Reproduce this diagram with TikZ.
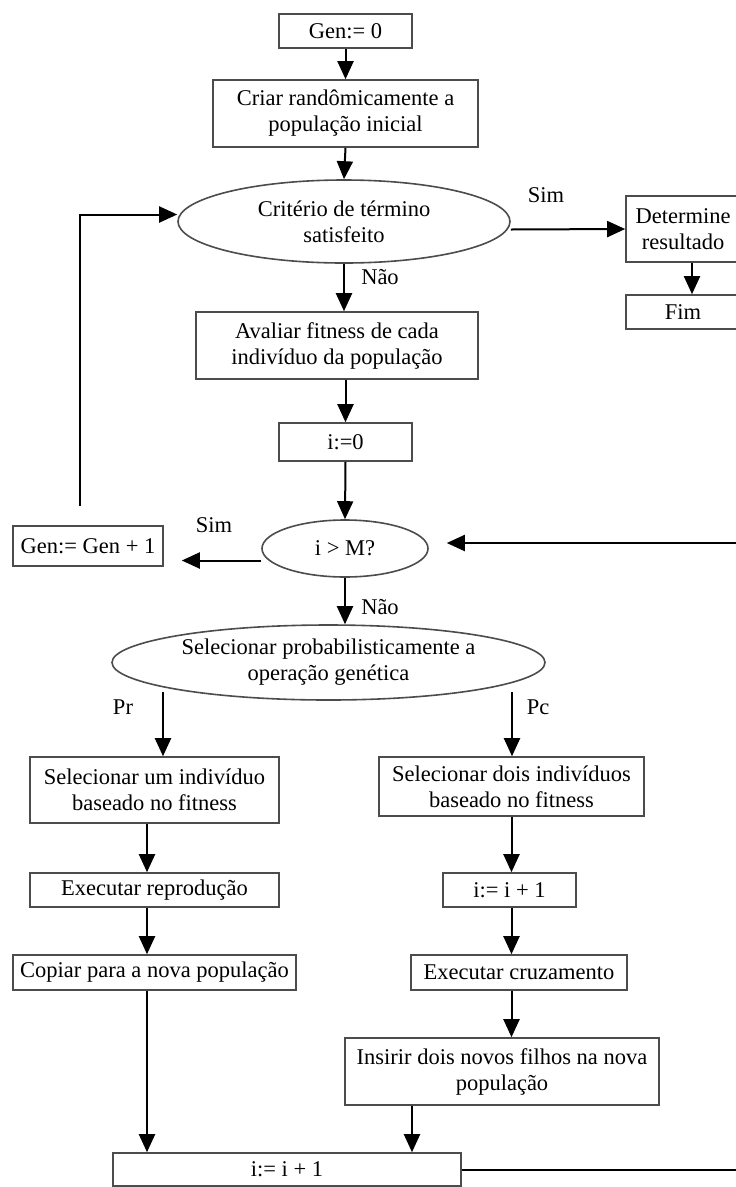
\documentclass[tikz,border=0pt]{standalone}
\usepackage{fontspec}
\setmainfont{Liberation Serif}
\usetikzlibrary{shapes.geometric,arrows.meta}
\begin{document}
\begin{tikzpicture}[x=1pt,y=-1pt,
  every node/.style={font=\fontsize{22.5}{26}\selectfont},
  box/.style={draw=black!70, line width=1.6pt, rectangle, inner sep=0pt, align=center},
  oval/.style={draw=black!70, line width=1.6pt, ellipse, inner sep=0pt, align=center},
  lbl/.style={inner sep=0pt},
  arr/.style={line width=2pt, -{Triangle[length=18pt,width=16pt]}},
  ln/.style={line width=2pt}]
\useasboundingbox (0,0) rectangle (736,1187);
\fill[white] (0,0) rectangle (736,1187);

\node[box, minimum width=133pt, minimum height=34pt] (gen0) at (345.5,31) {Gen:= 0};
\node[box, minimum width=265pt, minimum height=67pt] (criar) at (345.5,113.5) {Criar randômicamente a\\população inicial};
\node[oval, minimum width=332pt, minimum height=83pt] (crit) at (344,221.5) {Critério de término\\satisfeito};
\node[box, minimum width=114pt, minimum height=66pt] (det) at (683,229) {Determine\\resultado};
\node[box, minimum width=114pt, minimum height=34pt] (fim) at (683,312) {Fim};
\node[box, minimum width=282pt, minimum height=67pt] (aval) at (337,345.5) {Avaliar fitness de cada\\indivíduo da população};
\node[box, minimum width=133pt, minimum height=38pt] (i0) at (345.5,442) {i:=0};
\node[oval, minimum width=166pt, minimum height=57pt] (iM) at (345,548.5) {i > M?};
\node[box, minimum width=150pt, minimum height=40pt] (gen1) at (88,546) {Gen:= Gen + 1};
\node[oval, minimum width=433pt, minimum height=75pt] (sel) at (328.5,662.5) {Selecionar probabilisticamente a\\operação genética};
\node[box, minimum width=249pt, minimum height=66pt] (selum) at (154.5,790) {Selecionar um indivíduo\\baseado no fitness};
\node[box, minimum width=265pt, minimum height=59pt] (seldois) at (511.5,786.5) {Selecionar dois indivíduos\\baseado no fitness};
\node[box, minimum width=249pt, minimum height=34pt] (exrep) at (154.5,890) {Executar reprodução};
\node[box, minimum width=283pt, minimum height=35pt] (copiar) at (154.5,972.5) {Copiar para a nova população};
\node[box, minimum width=133pt, minimum height=34pt] (ii1) at (509.5,890) {i:= i + 1};
\node[box, minimum width=216pt, minimum height=35pt] (excruz) at (519,972.5) {Executar cruzamento};
\node[box, minimum width=314pt, minimum height=67pt] (insirir) at (502,1071.5) {Insirir dois novos filhos na nova\\população};
\node[box, minimum width=348pt, minimum height=33pt] (iibot) at (287,1169.5) {i:= i + 1};

\node[lbl] (sim1) at (546,195) {Sim};
\node[lbl] (nao1) at (380,277) {Não};
\node[lbl] (sim2) at (214,525) {Sim};
\node[lbl] (nao2) at (380,607) {Não};
\node[lbl] (pr) at (123,707) {Pr};
\node[lbl] (pc) at (538,707) {Pc};

\coordinate (rc) at (745,543);
\path (sel.center) ++(-165.5,29.5) coordinate (prs);
\path (sel.center) ++(183.5,29.5) coordinate (pcs);

\draw[arr] (gen0.south -| criar.north) -- (criar.north);
\draw[arr] (criar.south) -- (crit.north);
\draw[arr] ([yshift=-8pt]crit.east) -- (det.west);
\draw[arr] ([xshift=9pt]det.south) -- ([xshift=9pt]fim.north);
\draw[arr] (crit.south) -- (crit.south |- aval.north);
\draw[arr] (aval.south -| i0.north) -- (i0.north);
\draw[arr] (i0.south) -- (iM.north);
\draw[arr, shorten >=18pt] ([yshift=-12pt]iM.west) -- ([yshift=-12pt]iM.west -| gen1.east);
\draw[arr] ([xshift=-8pt,yshift=19pt]gen1.north) |- ([yshift=7pt]crit.west);
\draw[arr] (iibot.east) -| (rc) -- ([xshift=18pt,yshift=5.5pt]iM.east);
\draw[arr] (iM.south) -- (iM.south |- sel.north);
\draw[arr] (prs) -- (prs |- selum.north);
\draw[arr] (pcs) -- (pcs |- seldois.north);
\draw[arr] ([xshift=-7.5pt]selum.south) -- ([xshift=-7.5pt]exrep.north);
\draw[arr] ([xshift=-7.5pt]exrep.south) -- ([xshift=-7.5pt]copiar.north);
\draw[arr] ([xshift=-7.5pt]copiar.south) -- ([xshift=-7.5pt]copiar.south |- iibot.north);
\draw[arr] (seldois.south) -- (seldois.south |- ii1.north);
\draw[arr] (seldois.south |- ii1.south) -- (seldois.south |- excruz.north);
\draw[arr] (seldois.south |- excruz.south) -- (seldois.south |- insirir.north);
\draw[arr] ([xshift=-90pt]insirir.south) -- ([xshift=-90pt]insirir.south |- iibot.north);
\end{tikzpicture}
\end{document}
